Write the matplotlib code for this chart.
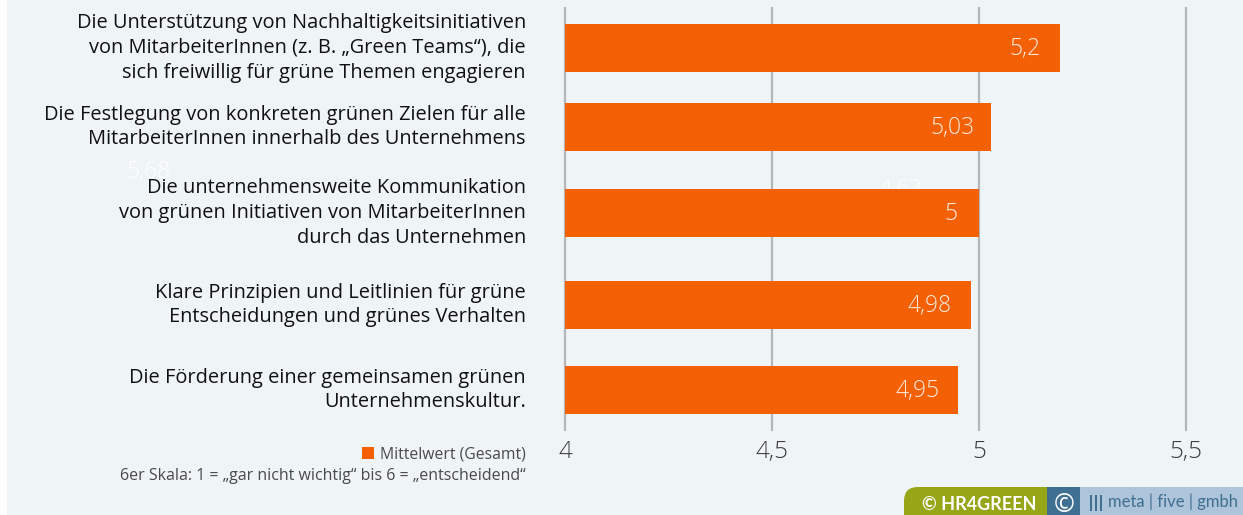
import matplotlib
matplotlib.use("Agg")
import matplotlib.pyplot as plt
from matplotlib.patches import Rectangle, FancyBboxPatch

categories = [
    "Die Unterstützung von Nachhaltigkeitsinitiativen\nvon MitarbeiterInnen (z. B. „Green Teams“), die\nsich freiwillig für grüne Themen engagieren",
    "Die Festlegung von konkreten grünen Zielen für alle\nMitarbeiterInnen innerhalb des Unternehmens",
    "Die unternehmensweite Kommunikation\nvon grünen Initiativen von MitarbeiterInnen\ndurch das Unternehmen",
    "Klare Prinzipien und Leitlinien für grüne\nEntscheidungen und grünes Verhalten",
    "Die Förderung einer gemeinsamen grünen\nUnternehmenskultur.",
]
values = [5.195, 5.03, 5.0, 4.98, 4.95]
value_labels = ["5,2", "5,03", "5", "4,98", "4,95"]
xticks = [4, 4.5, 5, 5.5]
xtick_labels = ["4", "4,5", "5", "5,5"]

W, H = 1243, 515
BG = "#eff4f7"
ORANGE = "#f46005"
FONT = "Open Sans"
TXT = "#111111"
plt.rcParams["font.family"] = [FONT, "DejaVu Sans"]

fig = plt.figure(figsize=(W / 100, H / 100), dpi=100, facecolor="white")

# page coordinates in pixels
page = fig.add_axes([0, 0, 1, 1])
page.set_xlim(0, W)
page.set_ylim(H, 0)
page.axis("off")
page.add_patch(Rectangle((7, 0), W - 7, H, color=BG, lw=0, zorder=0))

# plot area: x=4 at 565 px, 414 px per unit; spans y 8..430 px
left, right = 565, 1215
top, bottom = 8, 430
ax = fig.add_axes([left / W, 1 - bottom / H, (right - left) / W, (bottom - top) / H])
ax.patch.set_alpha(0)
ax.set_xlim(4, 4 + (right - left) / 414)
ax.set_ylim(bottom, top)
for s in ax.spines.values():
    s.set_visible(False)
ax.set_xticks(xticks)
ax.set_xticklabels(xtick_labels, fontsize=17.5, color="#3c3c3b", fontweight="light")
ax.tick_params(axis="x", length=0, pad=7)
ax.set_yticks([])
ax.grid(axis="x", color="#b4b6b8", lw=1.6, zorder=1)
for gl in ax.get_xgridlines():
    gl.set_clip_on(False)
ax.set_axisbelow(True)

bar_centers = [48, 127, 213, 305, 390]
bar_height = 48
ax.barh(bar_centers, [v - 4 for v in values], left=4, height=bar_height, color=ORANGE, zorder=3)

right_pad = [19, 17, 21, 19, 19]
for c, v, lab, pad in zip(bar_centers, values, value_labels, right_pad):
    ax.annotate(lab, (v, c), xytext=(-pad * 0.72, -0.5), textcoords="offset points",
                ha="right", va="center", color="#fde9dc", fontsize=16.5, zorder=4,
                fontweight="light")

# category labels
label_right = 526
for c, lab in zip(bar_centers, categories):
    page.text(label_right, c, lab, ha="right", va="center",
              fontsize=14.4, color=TXT, linespacing=1.32, zorder=3)

# faint leftover labels of the original graphic
page.text(148, 172, "5,68", ha="center", va="center", color="white", fontsize=16.5, zorder=1, fontweight="light")
ax.text(4.81, 190, "4,62", ha="center", va="center", color="white", fontsize=16.5, zorder=2, fontweight="light")

# legend and scale note
page.add_patch(Rectangle((362, 447), 12, 12, color=ORANGE, lw=0, zorder=3))
page.text(526, 454.5, "Mittelwert (Gesamt)", ha="right", va="center", fontsize=11.3, color="#4a4a49", zorder=3)
page.text(526, 475.5, "6er Skala: 1 = „gar nicht wichtig“ bis 6 = „entscheidend“", ha="right", va="center",
          fontsize=11.5, color="#4a4a49", zorder=3)

# footer badge
page.add_patch(FancyBboxPatch((918, 501), 140, 30, boxstyle="round,pad=14,rounding_size=14",
                              color="#97a617", lw=0, zorder=3, clip_on=True))
page.add_patch(Rectangle((1047, 487), 33, 28, color="#3f6f91", lw=0, zorder=4))
page.add_patch(Rectangle((1080, 487), W - 1080, 28, color="#adc4da", lw=0, zorder=4))
page.text(922, 504.5, "© HR4GREEN", ha="left", va="center", fontsize=13, color="white",
          fontweight="bold", family=["Lato", "DejaVu Sans"], zorder=5)
page.text(1064, 505, "©", ha="center", va="center", fontsize=18, color="white", zorder=5)
for bx in (1090, 1095, 1100):
    page.add_patch(Rectangle((bx, 495), 1.6, 16, color="#3f6f91", lw=0, zorder=5))
page.text(1108, 502, "meta | five | gmbh", ha="left", va="center", fontsize=12,
          color="#3f6f91", family=["Lato", "DejaVu Sans"], zorder=5)

fig.savefig("out.png", dpi=100, facecolor=fig.get_facecolor())
